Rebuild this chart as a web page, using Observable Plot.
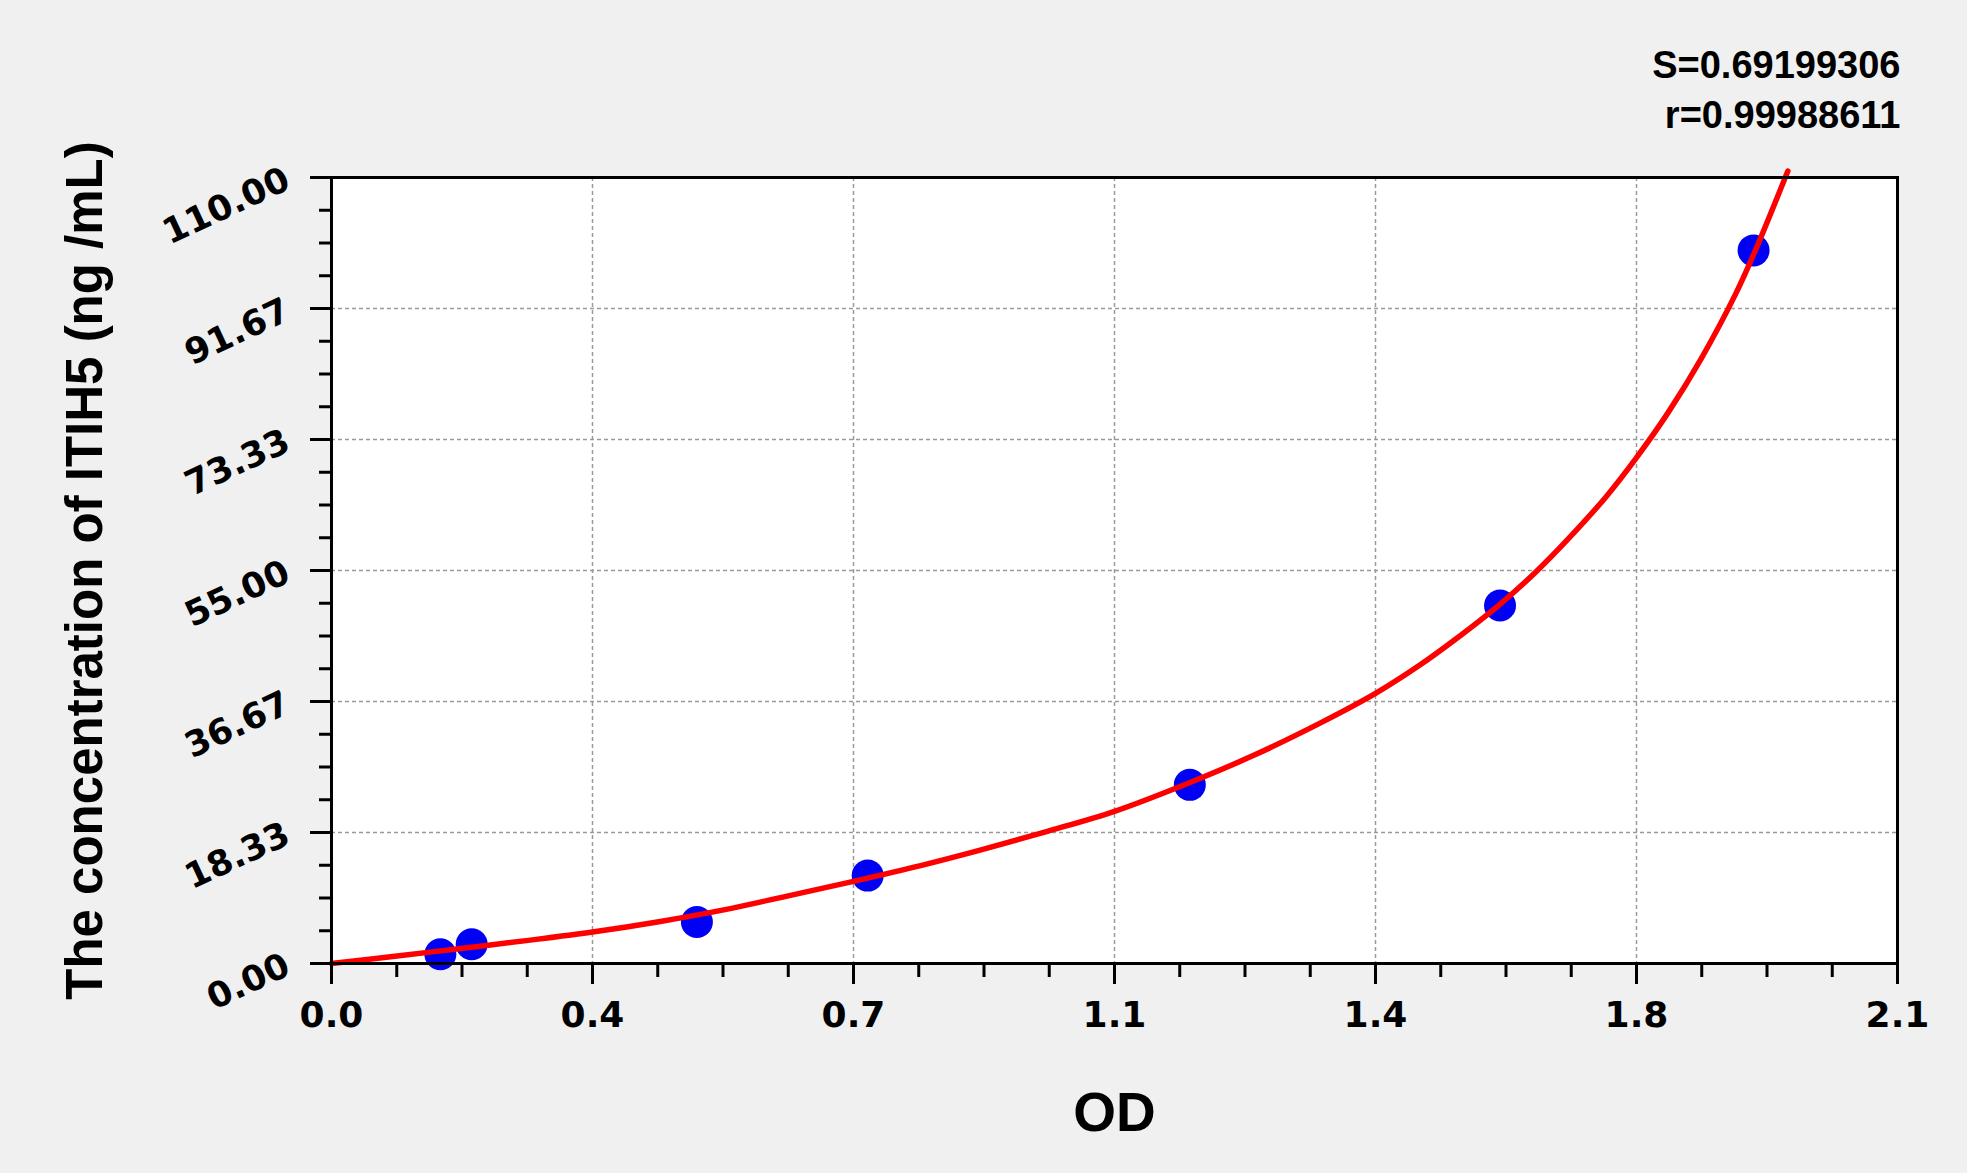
<!DOCTYPE html>
<html>
<head>
<meta charset="utf-8">
<script src="https://cdn.jsdelivr.net/npm/d3@7"></script>
<script src="https://cdn.jsdelivr.net/npm/@observablehq/plot@0.6"></script>
<style>
  html, body { margin: 0; padding: 0; background: #f0f0f0; }
  #chart svg { display: block; }
</style>
</head>
<body>
<div id="chart"></div>
<script>
// Standards (OD, concentration)
const stdOD   = [0.146, 0.188, 0.490, 0.719, 1.151, 1.567, 1.907];
const stdConc = [1.3, 2.7, 5.8, 12.3, 25.0, 50.1, 99.8];

// Fitted curve
const curveOD   = [0, 0.085, 0.173, 0.261, 0.35, 0.439, 0.526, 0.614, 0.70, 0.79, 0.871, 0.96, 1.05, 1.148, 1.236, 1.325, 1.40, 1.46, 1.505, 1.566, 1.615, 1.66, 1.709, 1.75, 1.793, 1.837, 1.882, 1.909, 1.953];
const curveConc = [0, 1.0, 2.1, 3.2, 4.4, 5.85, 7.5, 9.5, 11.5, 13.7, 15.9, 18.5, 21.3, 25.2, 29.1, 33.6, 37.8, 41.8, 45.2, 50.2, 54.8, 59.6, 65.3, 70.8, 77.2, 84.7, 93.5, 99.7, 110.9];

// Axes
const xTicks = [0, 0.35, 0.70, 1.05, 1.40, 1.75, 2.10];
const xTickLabels = ["0.0", "0.4", "0.7", "1.1", "1.4", "1.8", "2.1"];
const xMinorTicks = [0.0875, 0.175, 0.2625, 0.4375, 0.525, 0.6125, 0.7875, 0.875, 0.9625, 1.1375, 1.225, 1.3125, 1.4875, 1.575, 1.6625, 1.8375, 1.925, 2.0125];
const yTicks = [0, 18.333, 36.667, 55, 73.333, 91.667, 110];
const yTickLabels = ["0.00", "18.33", "36.67", "55.00", "73.33", "91.67", "110.00"];
const yMinorTicks = [4.583, 9.167, 13.75, 22.917, 27.5, 32.083, 41.25, 45.833, 50.417, 59.583, 64.167, 68.75, 77.917, 82.5, 87.083, 96.25, 100.833, 105.417];

const xTitle = "OD";
const yTitle = "The concentration of ITIH5 (ng /mL)";
const statS = "S=0.69199306";
const statR = "r=0.99988611";

const stdData = stdOD.map((od, i) => ({od, conc: stdConc[i]}));
const curveData = curveOD.map((od, i) => ({od, conc: curveConc[i]}));
const xLab = xTicks.map((v, i) => ({v, label: xTickLabels[i]}));
const yLab = yTicks.map((v, i) => ({v, label: yTickLabels[i]}));

const font = "'Liberation Sans', Arial, sans-serif";
const tickFont = "'DejaVu Sans', 'Liberation Sans', sans-serif";

const chart = Plot.plot({
  width: 1967,
  height: 1173,
  marginLeft: 331,
  marginRight: 70,
  marginTop: 177,
  marginBottom: 210,
  style: {background: "#f0f0f0", fontFamily: font, color: "black"},
  x: {domain: [0, 2.1], axis: null},
  y: {domain: [0, 110], axis: null},
  marks: [
    Plot.frame({fill: "white", stroke: "none"}),
    Plot.gridX(xTicks.slice(1, -1), {stroke: "#9a9a9a", strokeOpacity: 1, strokeWidth: 1.5, strokeDasharray: "4,3"}),
    Plot.gridY(yTicks.slice(1, -1), {stroke: "#9a9a9a", strokeOpacity: 1, strokeWidth: 1.5, strokeDasharray: "4,3"}),
    Plot.dot(stdData, {x: "od", y: "conc", r: 16, fill: "#0000f5", stroke: "none"}),
    Plot.line(curveData, {x: "od", y: "conc", stroke: "#ff0000", strokeWidth: 5.5, curve: "catmull-rom"}),
    Plot.frame({stroke: "black", strokeWidth: 3}),
    Plot.axisX(xTicks, {tickSize: 21, fill: "none", stroke: "black", strokeWidth: 3, tickFormat: () => ""}),
    Plot.axisX(xMinorTicks, {tickSize: 14, fill: "none", stroke: "black", strokeWidth: 3, tickFormat: () => ""}),
    Plot.axisY(yTicks, {tickSize: 21, fill: "none", stroke: "black", strokeWidth: 3, tickFormat: () => ""}),
    Plot.axisY(yMinorTicks, {tickSize: 12, fill: "none", stroke: "black", strokeWidth: 3, tickFormat: () => ""}),
    Plot.text(xLab, {x: "v", frameAnchor: "bottom", dy: 38, lineAnchor: "top", text: "label", fontFamily: tickFont, fontSize: 36, fontWeight: "bold", fill: "black"}),
    Plot.text(yLab, {y: "v", frameAnchor: "left", dx: -44, textAnchor: "end", lineAnchor: "middle", rotate: -25, text: "label", fontFamily: tickFont, fontSize: 35, fontWeight: "bold", fill: "black"}),
    Plot.text([xTitle], {frameAnchor: "bottom", dy: 150, lineAnchor: "middle", text: d => d, fontSize: 55, fontWeight: "bold", fill: "black"}),
    Plot.text([yTitle], {frameAnchor: "left", dx: -246, rotate: -90, textAnchor: "middle", lineAnchor: "middle", text: d => d, fontSize: 51, fontWeight: "bold", fill: "black"}),
    Plot.text([statS], {frameAnchor: "top-right", dx: 3, dy: -100, textAnchor: "end", lineAnchor: "bottom", text: d => d, fontSize: 38, fontWeight: "bold", fill: "black"}),
    Plot.text([statR], {frameAnchor: "top-right", dx: 3, dy: -50, textAnchor: "end", lineAnchor: "bottom", text: d => d, fontSize: 38, fontWeight: "bold", fill: "black"})
  ]
});
document.getElementById("chart").appendChild(chart);
</script>
</body>
</html>
